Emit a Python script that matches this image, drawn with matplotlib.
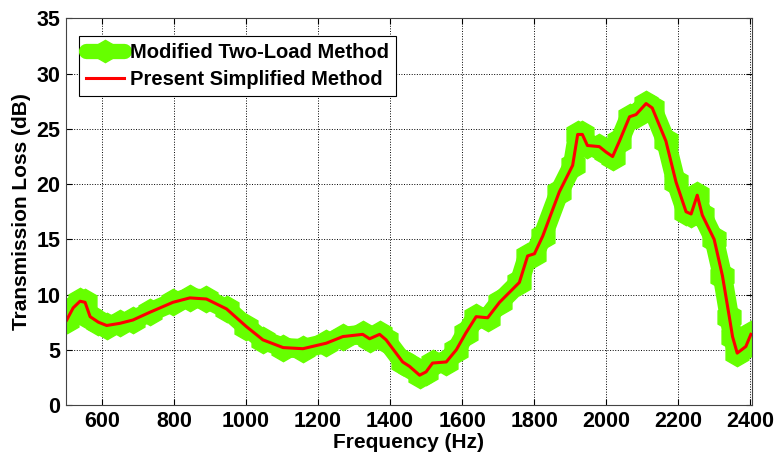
import numpy as np
import matplotlib
matplotlib.use("Agg")
import matplotlib.pyplot as plt

plt.rcParams.update({
    "font.family": ["Liberation Sans", "DejaVu Sans"],
    "font.weight": "bold",
    "font.size": 15,
})

# Transmission loss curve (Hz, dB)
freq = [502, 520, 539, 553, 567, 590, 613, 650, 686, 733, 797, 844, 890, 946,
        1001, 1047, 1103, 1158, 1223, 1269, 1324, 1343, 1371, 1389, 1435, 1454,
        1482, 1500, 1518, 1556, 1584, 1610, 1639, 1671, 1704, 1759, 1782, 1801,
        1824, 1870, 1907, 1921, 1934, 1948, 1981, 2000, 2018, 2037, 2065, 2083,
        2111, 2128, 2166, 2194, 2222, 2236, 2253, 2267, 2300, 2323, 2342, 2351,
        2364, 2388, 2402]
tl_two_load = [7.7, 8.8, 9.4, 9.3, 8.0, 7.5, 7.2, 7.4, 7.7, 8.4, 9.3, 9.7, 9.6, 8.7,
               7.1, 5.9, 5.2, 5.1, 5.6, 6.2, 6.4, 6.0, 6.4, 5.9, 3.9, 3.5,
               2.7, 3.0, 3.8, 3.9, 5.0, 6.5, 8.0, 7.9, 9.3, 11.1, 13.5, 13.7,
               15.3, 19.3, 21.7, 24.5, 24.5, 23.5, 23.4, 22.9, 22.5, 23.9, 26.1, 26.3,
               27.3, 26.9, 23.9, 20.2, 17.5, 17.3, 19.0, 17.2, 15.0, 11.7, 8.0, 6.2,
               4.7, 5.3, 6.4]
tl_simplified = tl_two_load

fig = plt.figure(figsize=(7.79, 4.59), dpi=100)
ax = fig.add_axes([0.0847, 0.1176, 0.8806, 0.8421])

ax.plot(freq, tl_two_load, color="#66ff00", linewidth=14, marker="h",
        markersize=19, solid_joinstyle="round", solid_capstyle="round",
        label="Modified Two-Load Method")
ax.plot(freq, tl_simplified, color="#ff0000", linewidth=2.2,
        label="Present Simplified Method")

ax.set_xlim(500, 2405)
ax.set_ylim(0, 35)
ax.set_xticks(range(600, 2401, 200))
ax.set_yticks(range(0, 36, 5))
ax.grid(True, color="black", linestyle=":", linewidth=0.7)
ax.tick_params(direction="in", length=4, top=True, right=True, labelsize=15.5, pad=4)
for s in ax.spines.values():
    s.set_color("#444444")

ax.set_xlabel("Frequency (Hz)", fontsize=15, fontweight="bold", labelpad=1)
ax.set_ylabel("Transmission Loss (dB)", fontsize=15, fontweight="bold", labelpad=4)

leg = ax.legend(loc="upper left", bbox_to_anchor=(0.01, 0.97), fontsize=14.5,
                fancybox=False, edgecolor="black", framealpha=1,
                handlelength=1.9, handletextpad=0.3, borderpad=0.35,
                labelspacing=0.4, borderaxespad=0.3)
leg.get_frame().set_linewidth(0.8)
leg.get_lines()[0].set_linewidth(11)
leg.get_lines()[0].set_markersize(16)

fig.savefig("out.png", dpi=100)
